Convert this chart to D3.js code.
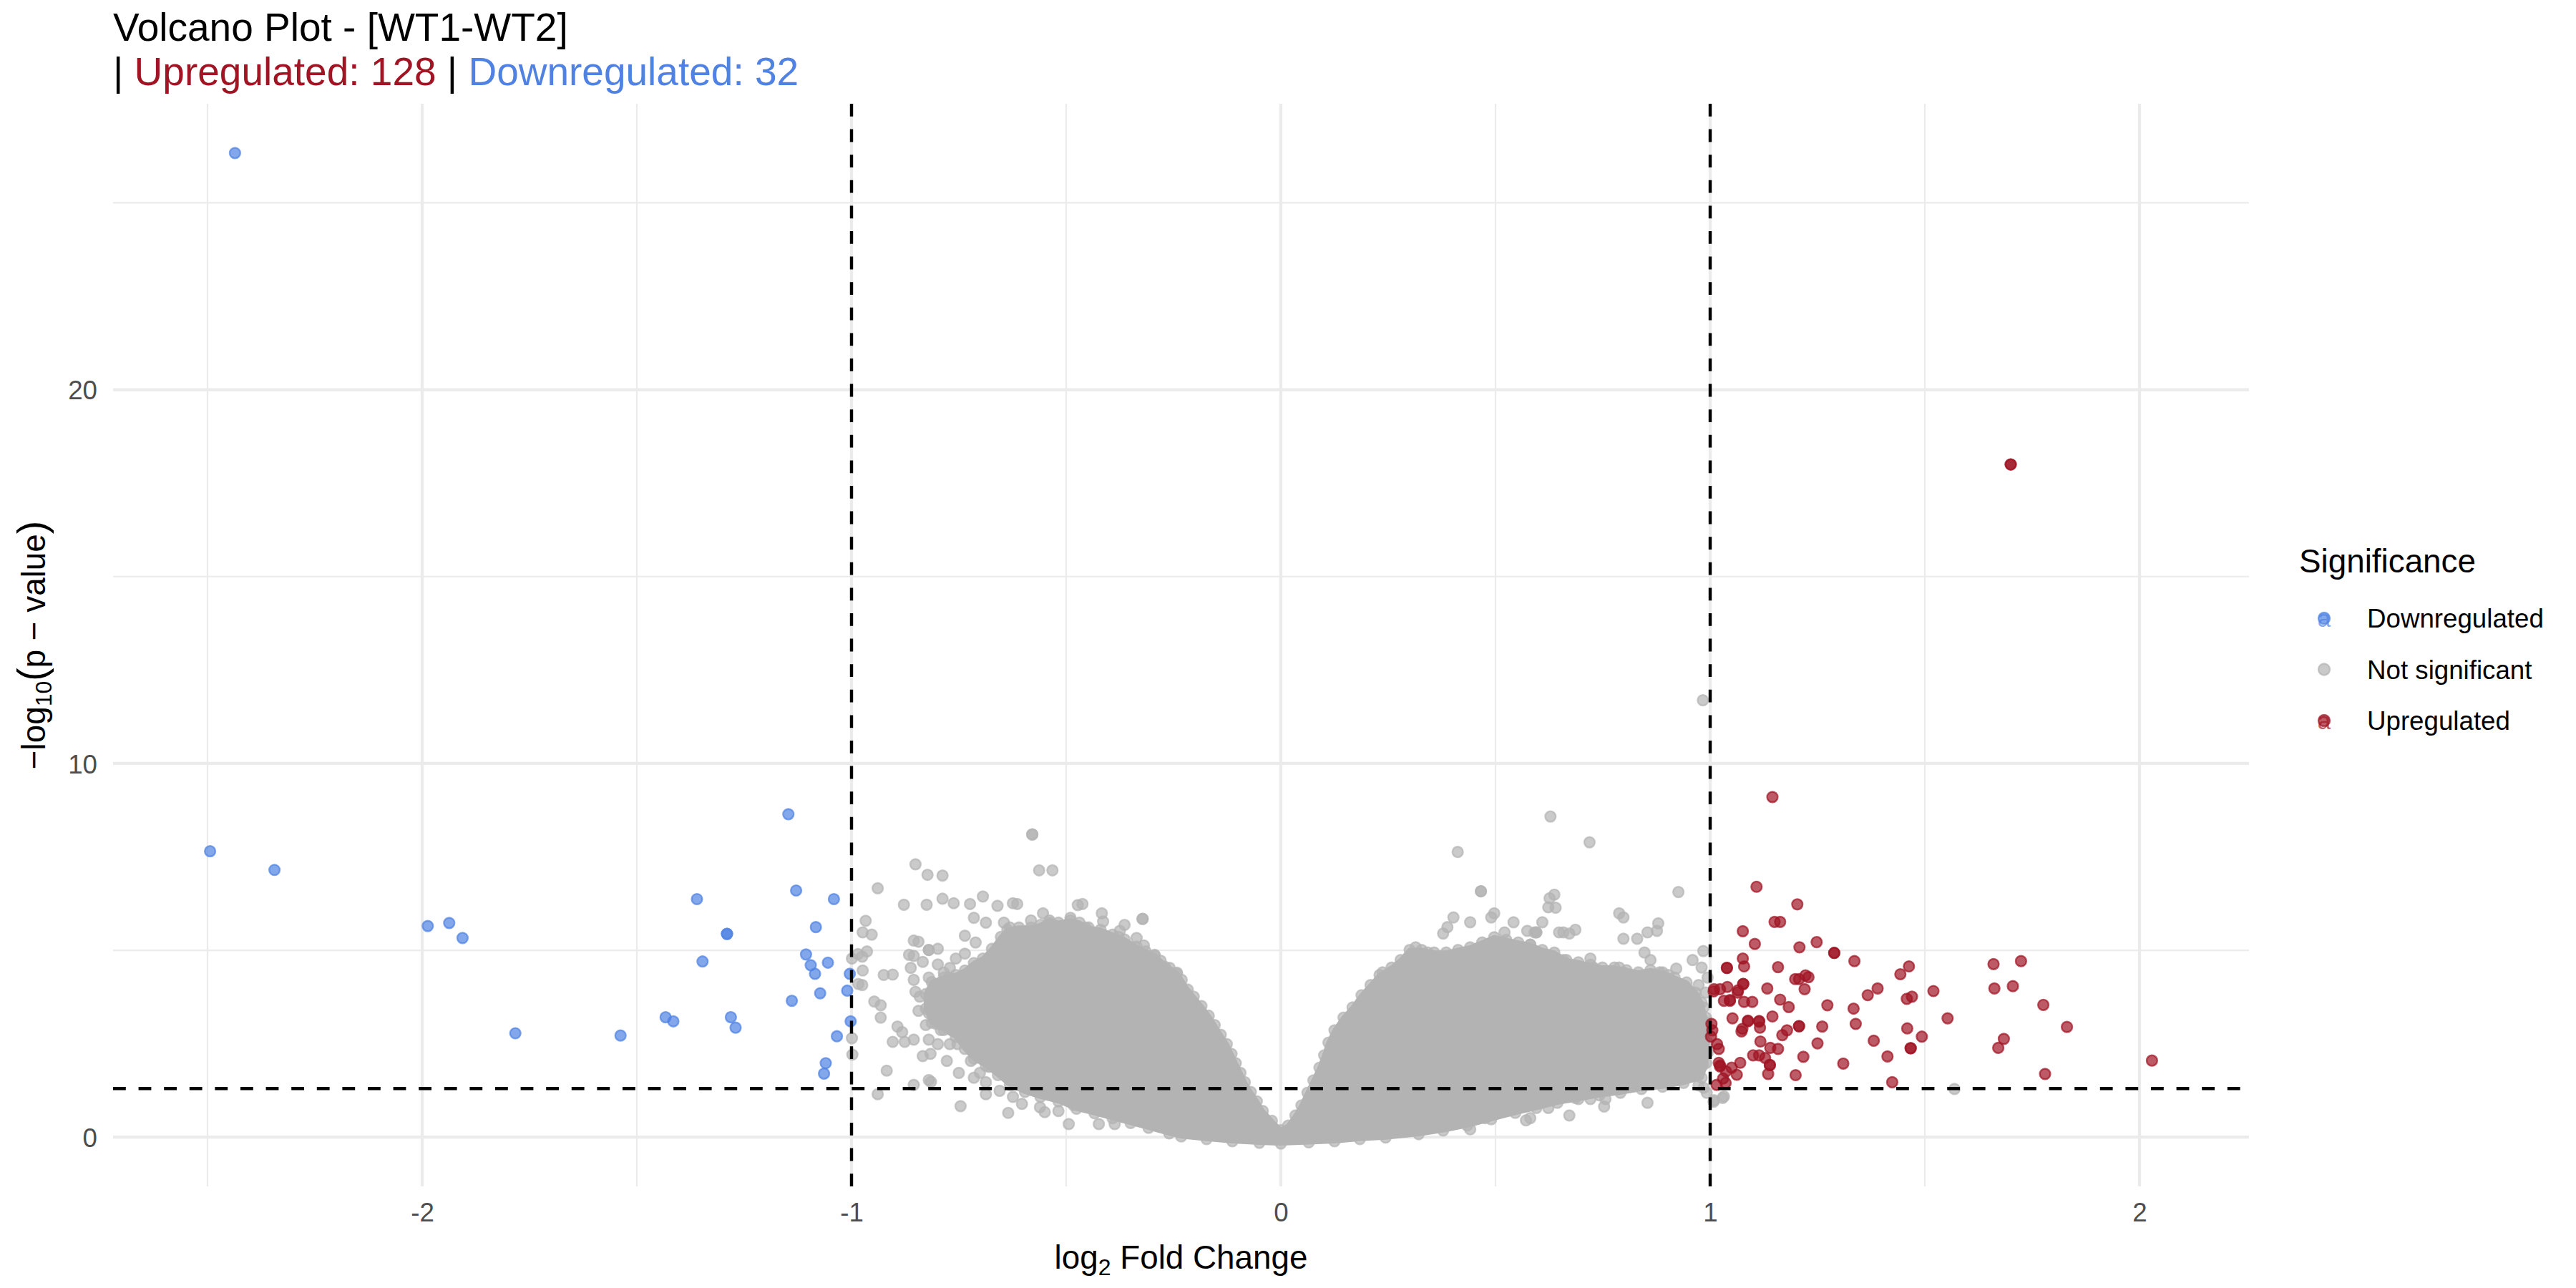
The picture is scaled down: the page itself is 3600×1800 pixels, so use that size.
<!DOCTYPE html>
<html><head><meta charset="utf-8">
<script src="https://cdn.jsdelivr.net/npm/d3@7"></script>
<style>
body{margin:0;background:#fff}
text{font-family:"Liberation Sans",Arial,Helvetica,sans-serif;white-space:pre}
</style>
</head><body>
<svg id="chart" width="3600" height="1800"></svg>
<script>
// ---------------- DATA ----------------
const titleText = "Volcano Plot - [WT1-WT2]";
const upCount = 128;
const downCount = 32;
const xTicks = [-2, -1, 0, 1, 2];
const xMinorTicks = [-2.5, -1.5, -0.5, 0.5, 1.5];
const yTicks = [0, 10, 20];
const yMinorTicks = [5, 15, 25];
const fcCutoffs = [-1, 1];
const pCutoff = 1.301;            // -log10(0.05)
const xDomain = [-2.72, 2.255];
const yDomain = [-1.317, 27.65];
const legendLabels = ["Downregulated", "Not significant", "Upregulated"];

// Upregulated genes [log2FC, -log10 p]
const upPoints = [
[1.700,18.00],[1.700,18.00],[1.145,9.10],[1.108,6.70],[1.203,6.23],[1.150,5.76],[1.163,5.76],[1.076,5.51],
[1.104,5.17],[1.208,5.08],[1.248,5.22],[1.289,4.93],[1.289,4.93],[1.336,4.71],[1.076,4.78],[1.079,4.57],
[1.039,4.53],[1.039,4.53],[1.158,4.55],[1.198,4.23],[1.207,4.23],[1.222,4.33],[1.229,4.28],[1.220,3.96],
[1.133,3.98],[1.077,4.10],[1.077,4.10],[1.065,3.93],[1.040,4.02],[1.009,3.96],[1.023,3.96],[1.032,3.65],
[1.046,3.65],[1.046,3.67],[1.079,3.62],[1.098,3.62],[1.163,3.68],[1.183,3.48],[1.052,3.18],[1.088,3.10],
[1.088,3.12],[1.114,3.11],[1.114,3.09],[1.116,2.93],[1.073,2.83],[1.075,2.90],[1.145,3.23],[1.207,2.97],
[1.207,2.97],[1.179,2.86],[1.168,2.73],[1.117,2.56],[1.158,2.36],[1.140,2.39],[1.100,2.19],[1.114,2.19],
[1.128,2.12],[1.139,1.93],[1.139,1.93],[1.135,1.69],[1.070,1.99],[1.062,1.67],[1.020,1.99],[1.023,1.89],
[1.023,1.92],[1.037,1.76],[1.030,1.57],[1.016,2.49],[1.020,2.36],[1.003,3.03],[1.005,2.86],[1.002,2.69],
[1.217,2.15],[1.199,1.66],[1.250,2.51],[1.261,2.96],[1.273,3.53],[1.310,1.97],[1.334,3.44],[1.339,3.03],
[1.367,3.80],[1.390,3.98],[1.381,2.58],[1.413,2.16],[1.424,1.47],[1.443,4.36],[1.463,4.57],[1.458,3.70],
[1.470,3.76],[1.459,2.91],[1.467,2.38],[1.467,2.38],[1.493,2.69],[1.520,3.91],[1.553,3.18],[1.660,4.63],
[1.662,3.98],[1.724,4.71],[1.705,4.04],[1.776,3.54],[1.831,2.95],[1.684,2.63],[1.671,2.39],[1.780,1.69],
[2.029,2.05],[1.050,1.86],[1.015,1.40],[1.036,1.45],[1.008,3.90],[1.064,3.87]
];

// Downregulated genes
const downPoints = [
[-2.436,26.33],[-2.494,7.65],[-2.344,7.15],[-1.147,8.64],[-1.129,6.60],[-1.041,6.37],[-1.360,6.37],[-1.083,5.62],
[-1.290,5.44],[-1.290,5.44],[-1.987,5.65],[-1.937,5.73],[-1.906,5.33],[-1.106,4.89],[-1.095,4.60],[-1.085,4.37],
[-1.055,4.67],[-1.004,4.37],[-1.347,4.70],[-1.073,3.85],[-1.010,3.92],[-1.139,3.65],[-1.433,3.21],[-1.415,3.10],
[-1.281,3.21],[-1.270,2.93],[-1.783,2.78],[-1.538,2.72],[-1.002,3.10],[-1.034,2.70],[-1.060,1.98],[-1.064,1.70]
];

// Not significant genes, individually visible ones
const nsPoints = [
[-0.579,8.10],[-0.579,8.10],[-0.563,7.14],[-0.532,7.14],[-0.851,7.30],[-0.823,7.02],[-0.788,7.00],[-0.939,6.66],
[-0.694,6.44],[-0.878,6.22],[-0.825,6.22],[-0.788,6.38],[-0.762,6.26],[-0.724,6.24],[-0.660,6.19],[-0.624,6.26],
[-0.614,6.24],[-0.967,5.79],[-0.974,5.48],[-0.953,5.42],[-0.964,4.97],[-0.975,4.83],[-0.999,4.78],[-0.974,4.46],
[-0.975,4.07],[-0.925,4.34],[-0.904,4.35],[-0.947,3.63],[-0.932,3.53],[-0.932,3.20],[-0.893,2.96],[-0.882,2.81],
[-0.904,2.55],[-0.876,2.55],[-0.855,2.61],[-0.999,2.65],[-0.998,2.21],[-0.918,1.78],[-0.939,1.15],[-0.855,1.40],
[-0.815,1.48],[-0.746,0.83],[-0.635,0.65],[-0.494,0.35],[-0.687,1.15],[-0.550,0.67],[-0.424,0.35],[-0.387,0.35],
[-0.322,5.84],[-0.322,5.84],[-0.473,6.21],[-0.462,6.24],[-0.417,5.99],[-0.414,5.77],[-0.364,5.68],[-0.375,5.52],
[-0.378,5.36],[-0.336,5.33],[-0.319,5.13],[-0.294,4.85],[-0.270,4.56],[-0.242,4.37],[-0.221,3.86],[-0.210,3.60],
[-0.855,5.26],[-0.844,5.23],[-0.866,4.88],[-0.820,5.01],[-0.820,5.01],[-0.799,5.04],[-0.855,4.21],[-0.851,3.89],
[-0.841,3.76],[-0.844,3.38],[-0.820,3.32],[-0.813,3.54],[-0.781,3.51],[-0.827,3.00],[-0.802,3.03],[-0.792,2.87],
[-0.771,3.00],[-0.834,2.17],[-0.816,2.23],[-0.778,2.04],[-0.750,1.72],[-0.771,2.49],[-0.753,2.49],[-0.722,2.04],
[-0.701,1.72],[-0.680,1.88],[-0.655,1.24],[-0.624,1.08],[-0.603,0.89],[-0.561,0.80],[-0.518,0.70],[-0.483,0.86],
[-0.820,1.53],[-0.764,4.08],[-0.774,4.27],[-0.757,4.78],[-0.736,4.91],[-0.736,5.39],[-0.711,5.21],[-0.715,5.87],
[-0.687,5.74],[-0.645,5.74],[-0.631,5.61],[-0.582,5.80],[-0.554,5.99],[-0.539,5.74],[-0.490,5.87],[-0.455,5.61],
[-0.448,5.39],[-0.985,4.90],[-0.984,4.10],[-0.834,4.69],[-0.799,4.62],[-0.785,4.40],[-0.820,4.27],[-0.771,4.53],
[-0.855,4.85],[-0.862,4.53],[-0.757,3.89],[-0.750,3.70],[-0.764,3.38],[-0.736,3.25],[-0.820,2.61],[-0.799,2.49],
[-0.701,2.42],[-0.673,2.23],[-0.652,2.61],[-0.715,1.59],[-0.687,1.47],[-0.610,1.72],
[0.983,11.69],[0.628,8.58],[0.719,7.89],[0.412,7.63],[0.466,6.58],[0.466,6.58],[0.926,6.56],[0.626,6.39],
[0.637,6.49],[0.623,6.15],[0.640,6.14],[0.497,5.99],[0.490,5.88],[0.402,5.88],[0.441,5.75],[0.388,5.62],
[0.378,5.45],[0.542,5.75],[0.521,5.48],[0.609,5.75],[0.591,5.48],[0.788,5.99],[0.798,5.88],[0.879,5.72],
[0.876,5.52],[0.854,5.48],[0.830,5.31],[0.798,5.31],[0.686,5.55],[0.672,5.45],[0.658,5.48],[0.574,5.52],
[0.581,5.15],[0.648,5.48],[0.984,4.98],[0.959,4.74],[0.980,4.54],[0.994,4.27],[0.847,4.94],[0.861,4.74],
[0.921,4.51],[0.903,4.34],[0.882,4.41],[0.658,4.74],[0.721,4.78],[0.728,4.54],[0.788,4.54],[0.798,4.41],
[0.237,4.41],[0.314,5.08],[0.342,4.94],[0.973,4.07],[0.945,3.87],[0.966,3.74],[0.903,3.77],[0.917,3.54],
[0.889,3.40],[0.924,3.00],[0.952,3.33],[0.959,2.93],[0.847,3.20],[0.875,3.00],[0.963,2.60],[0.931,2.39],
[0.938,1.72],[0.896,1.86],[0.882,1.66],[0.973,1.39],[1.008,0.95],[1.029,1.05],[0.854,0.92],[0.756,1.02],
[0.753,0.82],[0.721,1.02],[0.672,0.58],[0.686,1.05],[0.581,0.51],[0.571,0.45],[0.623,0.78],[0.651,1.08],
[0.441,0.21],[0.476,0.51],[0.469,0.65],[0.328,0.25],[0.728,1.79],[0.717,1.59],[0.798,1.66],[0.826,1.52],
[0.735,2.80],[0.763,2.60],[0.679,3.00],[0.686,2.66],[0.861,2.46],[0.840,2.26],[0.896,3.27],[0.861,3.60],
[0.595,5.48],[0.595,5.48],[0.686,4.47],[0.700,4.27],[1.569,1.29],[0.985,1.32],[0.992,1.19],[1.009,0.99],
[1.032,1.09],[0.990,3.87],[0.985,3.47],[0.990,3.20],[0.976,2.73],[0.994,2.26],[0.983,1.92]
];

// Genes lying on the edge of the solid mass of overlapping non-significant points (traced outline)
const nsCloudOutline = [
[0.000,0.19],[-0.021,0.44],[-0.042,0.70],[-0.056,0.96],[-0.070,1.21],[-0.084,1.47],[-0.094,1.72],[-0.105,1.98],
[-0.115,2.23],[-0.126,2.49],[-0.140,2.74],[-0.154,3.00],[-0.168,3.25],[-0.185,3.51],[-0.203,3.76],[-0.217,3.95],
[-0.231,4.21],[-0.242,4.40],[-0.259,4.53],[-0.280,4.72],[-0.294,4.88],[-0.315,4.97],[-0.336,5.10],[-0.364,5.29],
[-0.392,5.42],[-0.420,5.55],[-0.448,5.61],[-0.469,5.74],[-0.490,5.80],[-0.518,5.74],[-0.539,5.80],[-0.560,5.68],
[-0.582,5.61],[-0.610,5.61],[-0.637,5.55],[-0.652,5.36],[-0.673,5.04],[-0.694,4.78],[-0.715,4.66],[-0.736,4.46],
[-0.757,4.34],[-0.785,4.27],[-0.813,4.15],[-0.827,3.83],[-0.827,3.44],[-0.813,3.06],[-0.785,2.87],[-0.757,2.68],
[-0.736,2.36],[-0.715,2.10],[-0.687,1.91],[-0.659,1.66],[-0.631,1.40],[-0.596,1.21],[-0.560,1.08],[-0.518,0.96],
[-0.476,0.76],[-0.434,0.64],[-0.392,0.51],[-0.350,0.38],[-0.308,0.25],[-0.260,0.10],[-0.232,0.02],[-0.173,-0.05],
[-0.113,-0.11],[-0.050,-0.15],[0.000,-0.17],[0.065,-0.14],[0.125,-0.11],[0.184,-0.05],[0.244,-0.01],[0.321,0.08],
[0.378,0.18],[0.434,0.31],[0.490,0.48],[0.546,0.65],[0.595,0.78],[0.644,0.92],[0.693,1.02],[0.742,1.12],
[0.791,1.19],[0.840,1.29],[0.889,1.35],[0.938,1.45],[0.980,1.59],[0.991,1.99],[0.994,2.53],[0.991,3.07],
[0.980,3.60],[0.966,3.87],[0.945,4.14],[0.917,4.27],[0.889,4.41],[0.861,4.47],[0.833,4.41],[0.805,4.47],
[0.777,4.54],[0.749,4.54],[0.721,4.61],[0.693,4.68],[0.665,4.74],[0.637,4.94],[0.609,5.01],[0.581,5.15],
[0.553,5.21],[0.525,5.28],[0.497,5.35],[0.469,5.21],[0.441,5.08],[0.413,5.01],[0.385,4.94],[0.357,4.94],
[0.328,5.01],[0.300,5.01],[0.279,4.74],[0.258,4.54],[0.230,4.34],[0.209,4.07],[0.188,3.80],[0.167,3.47],
[0.146,3.20],[0.125,2.86],[0.111,2.53],[0.101,2.19],[0.090,1.86],[0.076,1.52],[0.062,1.19],[0.048,0.85],
[0.034,0.58],[0.017,0.31]
];

// ---------------- STYLE ----------------
const colors = {"Downregulated":"#4F82E3","Not significant":"#B3B3B3","Upregulated":"#A01423"};
const W = 3600, H = 1800;
const panel = {left:158, right:3143, top:145, bottom:1658};
const font = '"Liberation Sans",Arial,Helvetica,sans-serif';
const R = 7.4, SW = 2.4, ALPHA = 0.7;

const svg = d3.select("#chart");
svg.append("rect").attr("width",W).attr("height",H).attr("fill","#fff");

const x = d3.scaleLinear().domain(xDomain).range([panel.left, panel.right]);
const y = d3.scaleLinear().domain(yDomain).range([panel.bottom, panel.top]);

// grid
const grid = svg.append("g");
grid.selectAll(".vmin").data(xMinorTicks).join("line")
  .attr("x1",d=>x(d)).attr("x2",d=>x(d)).attr("y1",panel.top).attr("y2",panel.bottom)
  .attr("stroke","#EBEBEB").attr("stroke-width",2.2);
grid.selectAll(".hmin").data(yMinorTicks).join("line")
  .attr("y1",d=>y(d)).attr("y2",d=>y(d)).attr("x1",panel.left).attr("x2",panel.right)
  .attr("stroke","#EBEBEB").attr("stroke-width",2.2);
grid.selectAll(".vmaj").data(xTicks).join("line")
  .attr("x1",d=>x(d)).attr("x2",d=>x(d)).attr("y1",panel.top).attr("y2",panel.bottom)
  .attr("stroke","#EBEBEB").attr("stroke-width",4.3);
grid.selectAll(".hmaj").data(yTicks).join("line")
  .attr("y1",d=>y(d)).attr("y2",d=>y(d)).attr("x1",panel.left).attr("x2",panel.right)
  .attr("stroke","#EBEBEB").attr("stroke-width",4.3);

// dense mass of non-significant genes
const line = d3.line().x(d=>x(d[0])).y(d=>y(d[1])).curve(d3.curveLinearClosed);
svg.append("path").datum(nsCloudOutline).attr("d",line)
  .attr("fill",colors["Not significant"]).attr("stroke",colors["Not significant"])
  .attr("stroke-width",6).attr("stroke-linejoin","round");

function drawPts(data, col){
  svg.append("g").selectAll("circle").data(data).join("circle")
    .attr("cx",d=>x(d[0])).attr("cy",d=>y(d[1])).attr("r",R)
    .attr("fill",col).attr("fill-opacity",ALPHA)
    .attr("stroke",col).attr("stroke-opacity",ALPHA).attr("stroke-width",SW);
}
drawPts(nsCloudOutline, colors["Not significant"]);
drawPts(nsPoints, colors["Not significant"]);
drawPts(downPoints, colors["Downregulated"]);
drawPts(upPoints, colors["Upregulated"]);

// threshold lines
const dash = "17.8,17.8";
svg.append("g").selectAll("line").data(fcCutoffs).join("line")
  .attr("x1",d=>x(d)).attr("x2",d=>x(d)).attr("y1",panel.bottom).attr("y2",panel.top)
  .attr("stroke","#000").attr("stroke-width",4.4).attr("stroke-dasharray",dash);
svg.append("line").attr("x1",panel.left).attr("x2",panel.right)
  .attr("y1",y(pCutoff)).attr("y2",y(pCutoff))
  .attr("stroke","#000").attr("stroke-width",4.4).attr("stroke-dasharray",dash);

// axes
const xAxis = svg.append("g").attr("transform",`translate(0,${panel.bottom})`)
  .call(d3.axisBottom(x).tickValues(xTicks).tickFormat(d=>String(d)).tickSize(0).tickPadding(23));
const yAxis = svg.append("g").attr("transform",`translate(${panel.left},0)`)
  .call(d3.axisLeft(y).tickValues(yTicks).tickFormat(d=>String(d)).tickSize(0).tickPadding(22));
[xAxis,yAxis].forEach(a=>{
  a.select(".domain").remove();
  a.selectAll("text").attr("font-family",font).attr("font-size",36.7).attr("fill","#4D4D4D");
});
yAxis.selectAll("text").attr("dy","0.36em");

// axis titles
const xt = svg.append("text").attr("x",(panel.left+panel.right)/2).attr("y",1773)
  .attr("text-anchor","middle").attr("font-size",45.8).attr("fill","#000");
xt.append("tspan").text("log");
xt.append("tspan").attr("font-size",32).attr("dy",9).text("2");
xt.append("tspan").attr("dy",-9).text(" Fold Change");

const yt = svg.append("text").attr("transform",`translate(63,${(panel.top+panel.bottom)/2}) rotate(-90)`)
  .attr("text-anchor","middle").attr("font-size",45.8).attr("fill","#000");
yt.append("tspan").text("\u2212log");
yt.append("tspan").attr("font-size",32).attr("dy",9).text("10");
yt.append("tspan").attr("font-size",55).attr("dy",-9).text("(");
yt.append("tspan").text("p \u2212 value");
yt.append("tspan").attr("font-size",55).text(")");

// title (two lines)
svg.append("text").attr("x",158).attr("y",57).attr("font-size",55).attr("fill","#000").text(titleText);
const sub = svg.append("text").attr("x",158).attr("y",119).attr("font-size",55).attr("fill","#000");
sub.append("tspan").text("| ");
sub.append("tspan").attr("fill",colors["Upregulated"]).text(`Upregulated: ${upCount}`);
sub.append("tspan").text(" | ");
sub.append("tspan").attr("fill",colors["Downregulated"]).text(`Downregulated: ${downCount}`);

// legend
const lg = svg.append("g");
lg.append("text").attr("x",3213).attr("y",800).attr("font-size",45.8).attr("fill","#000").text("Significance");
const keyY = d3.scalePoint().domain(legendLabels).range([864, 1007]);
legendLabels.forEach(lab=>{
  const cy = keyY(lab), col = colors[lab];
  lg.append("circle").attr("cx",3248).attr("cy",cy).attr("r",R+0.6)
    .attr("fill",col).attr("fill-opacity",ALPHA)
    .attr("stroke",col).attr("stroke-opacity",ALPHA).attr("stroke-width",SW);
  if (lab !== "Not significant") {
    lg.append("text").attr("x",3248).attr("y",cy+12).attr("text-anchor","middle")
      .attr("font-size",33).attr("fill",col).attr("fill-opacity",ALPHA).text("a");
  }
  lg.append("text").attr("x",3308).attr("y",cy+13).attr("font-size",36.7).attr("fill","#000").text(lab);
});
</script>
</body></html>
